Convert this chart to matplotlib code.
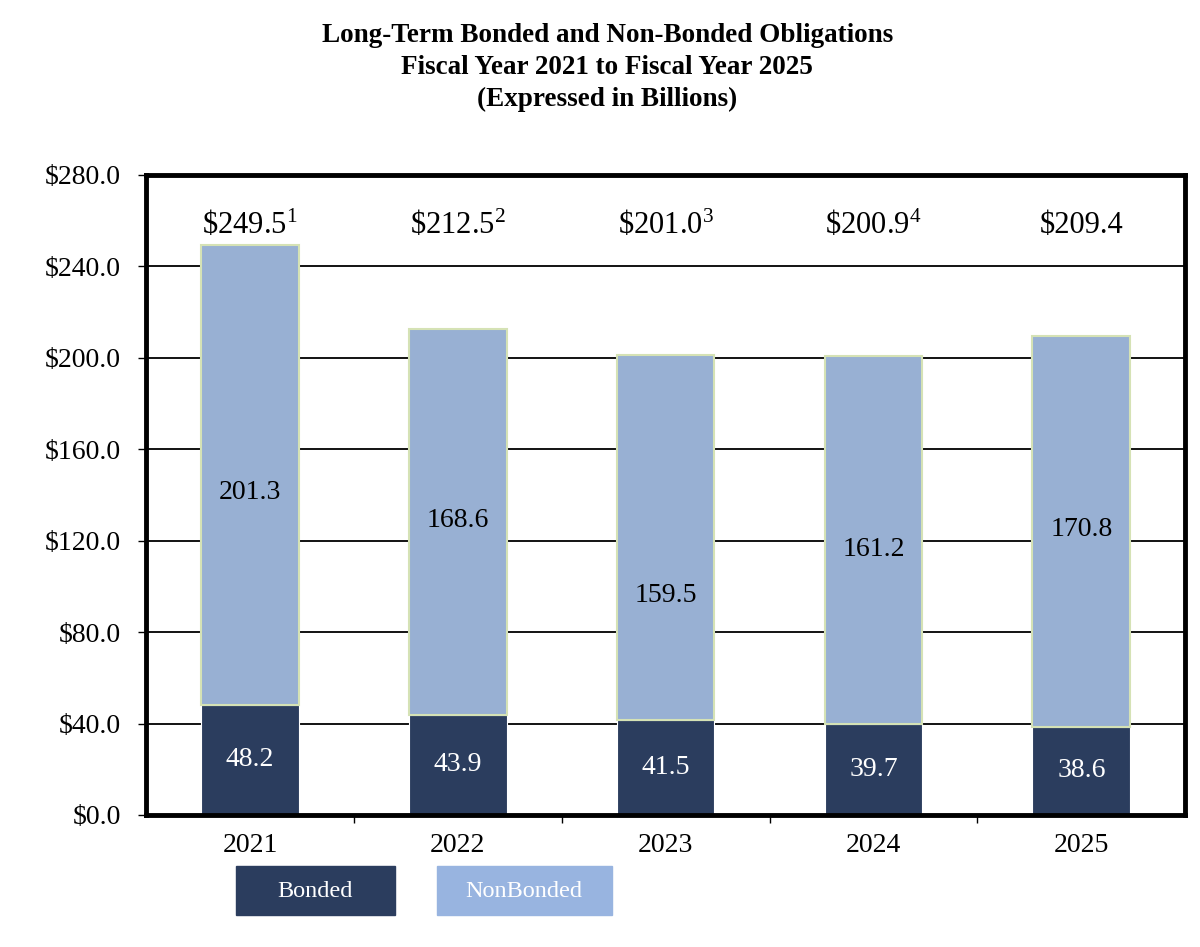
import numpy as np
import matplotlib.pyplot as plt
from matplotlib.patches import Rectangle

plt.rcParams['font.family'] = ['Liberation Serif', 'DejaVu Serif']
plt.rcParams['mathtext.fontset'] = 'custom'
plt.rcParams['mathtext.rm'] = 'Liberation Serif'
plt.rcParams['mathtext.default'] = 'regular'

years = ['2021', '2022', '2023', '2024', '2025']
bonded = [48.2, 43.9, 41.5, 39.7, 38.6]
nonbonded = [201.3, 168.6, 159.5, 161.2, 170.8]
totals = [249.5, 212.5, 201.0, 200.9, 209.4]
footnotes = ['1', '2', '3', '4', '']

# label heights for the NonBonded values (as placed in the original)
nb_label_y = [141, 129, 96, 116, 125]

BONDED_COLOR = '#2b3d5e'
NONBONDED_COLOR = '#98b0d3'

fig = plt.figure(figsize=(12, 9.47), dpi=100)
ax = fig.add_axes([0.1217, 0.1394, 0.866, 0.676])

x = np.arange(len(years))
w = 0.47

ax.bar(x, bonded, width=w, color=BONDED_COLOR, edgecolor='white', linewidth=0.8, zorder=3)
ax.bar(x, nonbonded, width=w, bottom=bonded, color=NONBONDED_COLOR,
       edgecolor='#d5e2b5', linewidth=1.5, zorder=3)

for i in range(len(years)):
    ax.text(x[i], bonded[i] / 2, f'{bonded[i]:.1f}', ha='center', va='center',
            color='white', fontsize=20, zorder=4)
    ax.text(x[i], nb_label_y[i], f'{nonbonded[i]:.1f}', ha='center', va='center',
            color='black', fontsize=20, zorder=4)
    label = rf'\${totals[i]:.1f}'
    if footnotes[i]:
        label += rf'$^{{{footnotes[i]}}}$'
    ax.text(x[i], 258, label, ha='center', va='center', fontsize=22, zorder=4)

ax.set_xlim(-0.5, 4.5)
ax.set_ylim(0, 280)
ax.set_yticks(np.arange(0, 281, 40))
ax.set_yticklabels([f'${v:.1f}' for v in np.arange(0, 281, 40)], fontsize=20)
ax.set_xticks(x)
ax.set_xticklabels(years, fontsize=20)
ax.set_xticks(np.arange(0.5, 4.5, 1), minor=True)
ax.tick_params(axis='x', which='major', length=0, pad=13)
ax.tick_params(axis='x', which='minor', length=6, width=1, direction='out')
ax.tick_params(axis='y', length=6, width=1, direction='out', pad=12)

ax.yaxis.grid(True, color='black', linewidth=1.3, zorder=0)
ax.set_axisbelow(True)
for s in ax.spines.values():
    s.set_linewidth(3.5)
    s.set_zorder(5)

fig.text(0.506, 0.976, 'Long-Term Bonded and Non-Bonded Obligations\n'
         'Fiscal Year 2021 to Fiscal Year 2025\n(Expressed in Billions)',
         ha='center', va='top', fontsize=19.5, fontweight='bold', linespacing=1.36)

# legend boxes
fig.add_artist(Rectangle((236 / 1200, 1 - 915 / 947), 159 / 1200, 49 / 947,
                         transform=fig.transFigure, color=BONDED_COLOR))
fig.text(315 / 1200, 1 - 891 / 947, 'Bonded', ha='center', va='center',
         color='white', fontsize=17.5)
fig.add_artist(Rectangle((437 / 1200, 1 - 915 / 947), 175 / 1200, 49 / 947,
                         transform=fig.transFigure, color='#98b4e0'))
fig.text(524 / 1200, 1 - 891 / 947, 'NonBonded', ha='center', va='center',
         color='white', fontsize=17.5)

fig.savefig('out.png', dpi=100)
